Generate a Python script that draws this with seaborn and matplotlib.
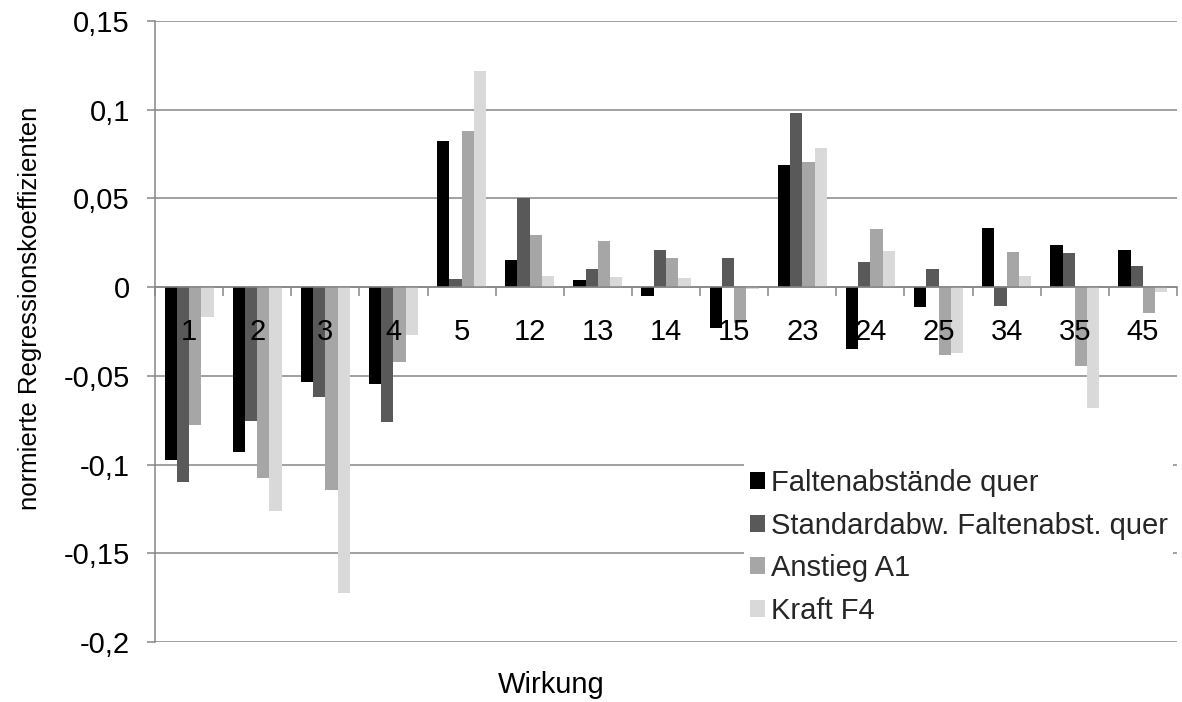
import matplotlib
matplotlib.use("Agg")
import matplotlib.pyplot as plt
import matplotlib.transforms as mtransforms
from matplotlib.patches import Patch
import seaborn as sns
import pandas as pd

# Effects (main effects and two-way interactions)
wirkungen = ["1", "2", "3", "4", "5", "12", "13", "14", "15",
             "23", "24", "25", "34", "35", "45"]

faltenabstaende_quer = [-0.0972, -0.0929, -0.0535, -0.0544, 0.0824, 0.0153, 0.0038,
                        -0.0048, -0.0232, 0.0687, -0.0349, -0.0114, 0.0334, 0.0238, 0.0207]
standardabw_quer = [-0.1098, -0.0753, -0.0621, -0.0762, 0.0044, 0.0500, 0.0100,
                    0.0211, 0.0162, 0.0982, 0.0142, 0.0104, -0.0106, 0.0194, 0.0117]
anstieg_a1 = [-0.0779, -0.1076, -0.1145, -0.0420, 0.0880, 0.0296, 0.0260,
              0.0166, -0.0202, 0.0706, 0.0330, -0.0382, 0.0198, -0.0443, -0.0148]
kraft_f4 = [-0.0170, -0.1264, -0.1726, -0.0272, 0.1220, 0.0065, 0.0059,
            0.0054, -0.0010, 0.0786, 0.0204, -0.0373, 0.0061, -0.0681, -0.0029]

reihen = ["Faltenabstände quer", "Standardabw. Faltenabst. quer", "Anstieg A1", "Kraft F4"]
farben = ["#000000", "#595959", "#a6a6a6", "#d9d9d9"]

y_ticks = [0.15, 0.1, 0.05, 0, -0.05, -0.1, -0.15, -0.2]
y_ticklabels = ["0,15", "0,1", "0,05", "0", "-0,05", "-0,1", "-0,15", "-0,2"]

rows = []
for name, values in zip(reihen, [faltenabstaende_quer, standardabw_quer, anstieg_a1, kraft_f4]):
    for w, v in zip(wirkungen, values):
        rows.append({"Wirkung": w, "Wert": v, "Reihe": name})
df = pd.DataFrame(rows)

sns.set_theme(style="white")
plt.rcParams["font.family"] = ["Liberation Sans", "DejaVu Sans"]
FS = 21
FS_Y = 18.5
grau = "#868686"

fig = plt.figure(figsize=(11.82, 7.02), dpi=100)
ax = fig.add_axes([155 / 1182, 1 - 642 / 702, 1022 / 1182, 621 / 702])

sns.barplot(data=df, x="Wirkung", y="Wert", hue="Reihe", order=wirkungen,
            hue_order=reihen, palette=farben, saturation=1, width=0.72, gap=0,
            linewidth=0, edgecolor="none", legend=False, ax=ax)

ax.set_xlim(-0.5, len(wirkungen) - 0.5)
ax.set_ylim(-0.2, 0.15)
ax.set_axisbelow(True)

# horizontal grid lines
ax.set_yticks(y_ticks)
ax.set_yticklabels(y_ticklabels, fontsize=FS, color="black")
ax.yaxis.grid(True, color=grau, linewidth=1.1)
ax.xaxis.grid(False)

# spines: left axis and the category axis through zero
for s in ["top", "right"]:
    ax.spines[s].set_visible(False)
ax.spines["left"].set_color(grau)
ax.spines["left"].set_linewidth(1.1)
ax.spines["bottom"].set_position(("data", 0))
ax.spines["bottom"].set_color(grau)
ax.spines["bottom"].set_linewidth(1.1)

ax.tick_params(axis="y", which="major", direction="out", length=6, width=1.1,
               color=grau, pad=12, left=True)
ax.set_xticks(range(len(wirkungen)))
ax.set_xticklabels([])
ax.set_xticks([i - 0.5 for i in range(len(wirkungen) + 1)], minor=True)
ax.tick_params(axis="x", which="major", length=0, bottom=True)
ax.tick_params(axis="x", which="minor", direction="out", length=6.3, width=1.1,
               color=grau, bottom=True)

# category labels just below the zero line, drawn on top of the bars
label_trans = mtransforms.offset_copy(ax.transData, fig=fig, y=-22, units="points")
for i, w in enumerate(wirkungen):
    ax.text(i, 0, w, transform=label_trans, ha="center", va="top",
            fontsize=FS, color="black", zorder=10)

ax.set_xlabel("Wirkung", fontsize=FS, color="black")
ax.xaxis.set_label_coords(0.3875, -0.046)
ax.set_ylabel("normierte Regressionskoeffizienten", fontsize=FS_Y, color="black")
ax.yaxis.set_label_coords(-0.1106, 0.538)

handles = [Patch(facecolor=c, edgecolor="none", label=l) for c, l in zip(farben, reihen)]
leg = ax.legend(handles=handles, loc="upper left", bbox_to_anchor=(0.5763, 0.288),
                borderaxespad=0, fontsize=FS, frameon=True, framealpha=1,
                facecolor="white", edgecolor="none", fancybox=False,
                handlelength=0.51, handleheight=0.51, handletextpad=0.2,
                labelspacing=0.5, borderpad=0.2)
leg.set_zorder(20)

fig.savefig("out.png", dpi=100, facecolor="white")
